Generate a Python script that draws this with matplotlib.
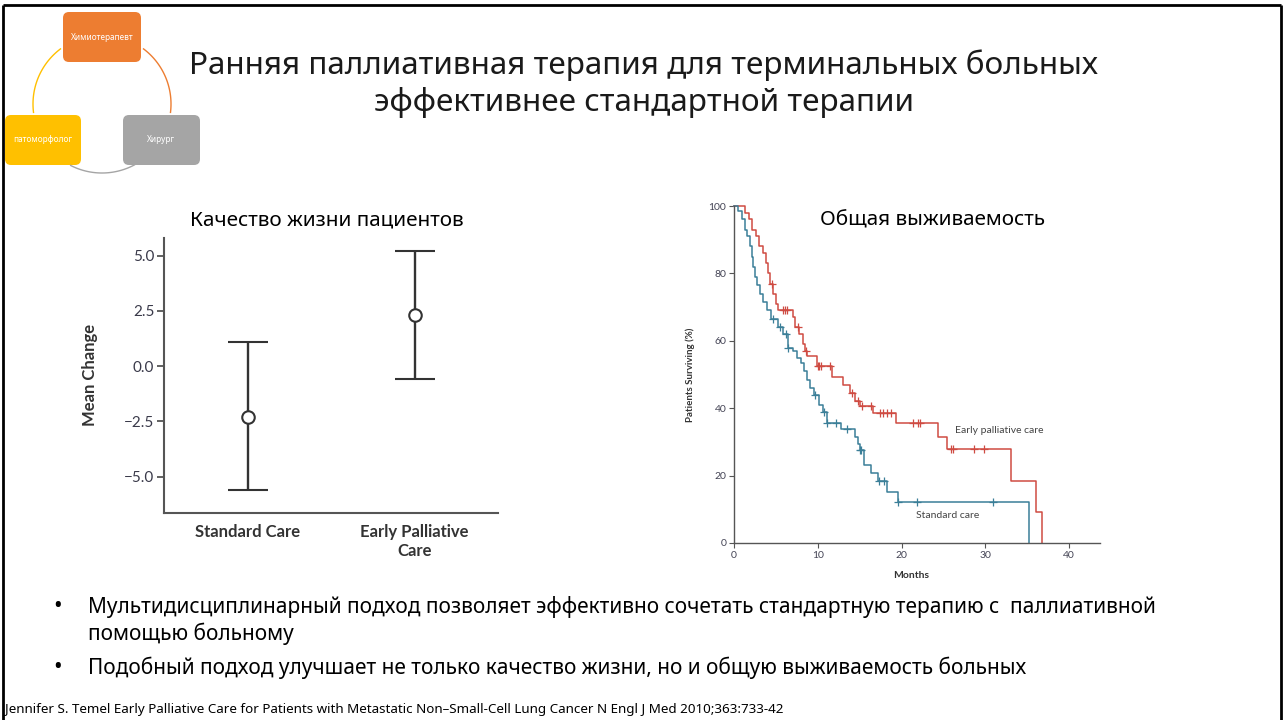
import numpy as np
import matplotlib
matplotlib.use('Agg')
import matplotlib.pyplot as plt
from matplotlib.patches import FancyBboxPatch

W, H = 1285, 720

# ---------------- Data ----------------
qol_groups = ['Standard Care', 'Early Palliative\nCare']
qol_mean = [-2.3, 2.3]
qol_low = [-5.6, -0.6]
qol_high = [1.1, 5.2]
qol_yticks = [-5.0, -2.5, 0.0, 2.5, 5.0]

early_t = [0, 1.3, 1.8, 2.2, 2.6, 3.0, 3.5, 3.8, 4.0, 4.3, 4.7, 5.0, 5.3, 7.0, 7.3,
           7.8, 8.2, 8.5, 8.7, 9.9, 11.7, 13.0, 13.8, 14.5, 15.1, 16.6, 19.4, 24.3,
           25.4, 33.1, 36.1, 36.8]
early_s = [100, 98, 96, 93, 91, 88, 86, 83, 80, 77, 74, 71, 69, 67, 64,
           62, 59, 57, 55.5, 52.5, 49.3, 47, 44.5, 42, 40.7, 38.6, 35.7, 31.5,
           27.9, 18.4, 9.2, 0]
early_cens = [4.5, 5.9, 6.1, 6.3, 7.7, 8.6, 10.0, 10.2, 10.4, 11.5, 14.1, 14.8, 15.3,
              16.4, 17.4, 17.8, 18.3, 18.7, 21.4, 22.0, 22.2, 25.9, 26.1, 28.7, 29.8]

std_t = [0, 0.5, 1.0, 1.3, 1.6, 1.9, 2.1, 2.3, 2.5, 2.8, 3.1, 3.5, 3.9, 4.4, 5.3,
         5.8, 6.4, 7.0, 7.5, 8.0, 8.4, 8.7, 9.1, 9.5, 10.2, 10.6, 11.1, 12.8, 14.5,
         14.8, 15.0, 15.5, 16.3, 17.2, 18.3, 19.6, 35.2]
std_s = [100, 98.5, 96, 93, 91, 88, 85, 82, 79, 76.5, 74, 71.5, 69, 66.5, 64,
         62, 58, 57, 55, 53.5, 51, 48.5, 46, 44, 41, 39, 35.6, 33.8, 31.5,
         29.5, 27.6, 23, 20.8, 18.4, 15.1, 12.2, 0]
std_cens = [4.7, 5.5, 6.2, 6.5, 9.7, 10.7, 11.1, 12.2, 13.5, 15.0, 15.2, 17.3, 17.9,
            19.6, 21.9, 30.9]

km_xticks = [0, 10, 20, 30, 40]
km_yticks = [0, 20, 40, 60, 80, 100]

title_lines = ['Ранняя паллиативная терапия для терминальных больных',
               'эффективнее стандартной терапии']
left_title = 'Качество жизни пациентов'
right_title = 'Общая выживаемость'
bullets = ['Мультидисциплинарный подход позволяет эффективно сочетать стандартную терапию с  паллиативной',
           'помощью больному',
           'Подобный подход улучшает не только качество жизни, но и общую выживаемость больных']
footer = ('Jennifer S. Temel Early Palliative Care for Patients with Metastatic '
          'Non\u2013Small-Cell Lung Cancer N Engl J Med 2010;363:733-42')
roles = ['Химиотерапевт', 'патоморфолог', 'Хирург']
role_colors = ['#ED7D31', '#FFC000', '#A5A5A5']

CYR = ['Noto Sans', 'DejaVu Sans']
CHART = ['Lato', 'DejaVu Sans']

fig = plt.figure(figsize=(W / 100, H / 100), dpi=100)
fig.patch.set_facecolor('white')
renderer = fig.canvas.get_renderer()


def fit_text(x, y, s, width_px, ha='left', va='center', **kw):
    t = fig.text(x / W, 1 - y / H, s, ha=ha, va=va, **kw)
    bb = t.get_window_extent(renderer=renderer)
    t.set_fontsize(t.get_fontsize() * width_px / bb.width)
    return t


# ---------------- background / diagram ----------------
bg = fig.add_axes([0, 0, 1, 1], zorder=-1)
bg.set_xlim(0, W)
bg.set_ylim(H, 0)
bg.axis('off')

for xs, ys in [([3, 3], [5, 720]), ([3, 1281], [5, 5]), ([1281, 1281], [5, 720])]:
    bg.plot(xs, ys, color='black', lw=2, solid_capstyle='butt')

cx, cy, r = 102, 104, 69
arcs = [(-53, 7, role_colors[0]), (62, 117, role_colors[2]), (173, 233, role_colors[1])]
for a0, a1, c in arcs:
    th = np.radians(np.linspace(a0, a1, 60))
    bg.plot(cx + r * np.cos(th), cy + r * np.sin(th), color=c, lw=1.0)

boxes = [(63, 12, 78, 50), (5, 115, 76, 50), (123, 115, 77, 50)]
role_fs = None
for (bx, by, bw, bh), lab, col in zip(boxes, roles, role_colors):
    bg.add_patch(FancyBboxPatch((bx + 6, by + 6), bw - 12, bh - 12,
                                boxstyle='round,pad=6', fc=col, ec='none'))
    if role_fs is None:
        rt = fit_text(bx + bw / 2, by + bh / 2, lab, 63, ha='center', color='white',
                      fontsize=6, family=CYR)
        role_fs = rt.get_fontsize()
    else:
        fig.text((bx + bw / 2) / W, 1 - (by + bh / 2) / H, lab, ha='center', va='center',
                 color='white', fontsize=role_fs, family=CYR)

# ---------------- titles ----------------
t1 = fit_text(643.5, 65, title_lines[0], 913, ha='center', family=CYR,
              fontsize=24, fontweight='light', color='#1a1a1a')
fig.text(643.5 / W, 1 - 103 / H, title_lines[1], ha='center', va='center',
         family=CYR, fontsize=t1.get_fontsize(), fontweight='light', color='#1a1a1a')

st = fit_text(327, 220, left_title, 273, ha='center', family=CYR, fontsize=14, color='black')
fig.text(932 / W, 1 - 220 / H, right_title, ha='center', va='center', family=CYR,
         fontsize=st.get_fontsize(), color='black')

# ---------------- bullets ----------------
b1 = fit_text(88, 607, bullets[0], 1065, family=CYR, fontsize=14, color='black')
fs = b1.get_fontsize()
fig.text(88 / W, 1 - 634 / H, bullets[1], ha='left', va='center', family=CYR, fontsize=fs)
fig.text(88 / W, 1 - 668 / H, bullets[2], ha='left', va='center', family=CYR, fontsize=fs)
for yb in (607, 668):
    fig.text(58 / W, 1 - yb / H, '\u2022', ha='center', va='center', family=CYR,
             fontsize=fs * 1.1)

fit_text(5, 710, footer, 783, family=CYR, fontsize=8, color='black')

# ---------------- left chart: quality of life ----------------
ax1 = fig.add_axes([164 / W, 1 - 513 / H, (498 - 164) / W, (513 - 238) / H])
xpos = np.arange(len(qol_groups))
mean = np.array(qol_mean)
yerr = [mean - np.array(qol_low), np.array(qol_high) - mean]
ax1.errorbar(xpos, mean, yerr=yerr, fmt='o', mfc='white', mec='#333333', ms=9, mew=1.5,
             ecolor='#333333', elinewidth=1.7, capsize=14.4, capthick=1.7)
ax1.set_xlim(-0.5, 1.5)
ax1.set_ylim(-6.65, 5.8)
ax1.set_yticks(qol_yticks)
ax1.set_yticklabels([f'{v:.1f}'.replace('-', '\u2212') for v in qol_yticks],
                    family=CHART, fontsize=11, color='#3a3a4a')
ax1.set_xticks(xpos)
ax1.set_xticklabels(qol_groups, family=CHART, fontsize=12, fontweight='bold',
                    color='#333333', linespacing=1.25)
ax1.tick_params(axis='x', length=0, pad=8)
ax1.tick_params(axis='y', length=5, width=1.3, color='#555555', pad=2)
for s in ('top', 'right'):
    ax1.spines[s].set_visible(False)
for s in ('left', 'bottom'):
    ax1.spines[s].set_color('#555555')
    ax1.spines[s].set_linewidth(1.5)
fig.text(90 / W, 1 - 375 / H, 'Mean Change', rotation=90, ha='center', va='center',
         family=CHART, fontsize=12, fontweight='bold', color='#333333')

# ---------------- right chart: survival ----------------
red, blue = '#cf4b42', '#3b7f98'
ax2 = fig.add_axes([734 / W, 1 - 543 / H, (1100 - 734) / W, (543 - 206) / H])
for t, s, cens, col in [(early_t, early_s, early_cens, red), (std_t, std_s, std_cens, blue)]:
    ax2.step(t, s, where='post', color=col, lw=1.1, clip_on=False)
    tt = np.array(t)
    ss = np.array(s)
    idx = np.searchsorted(tt, np.array(cens), side='right') - 1
    ax2.plot(cens, ss[idx], ls='none', marker='+', ms=6, mew=0.9, color=col, clip_on=False)
ax2.set_xlim(0, 43.7)
ax2.set_ylim(0, 100)
ax2.set_xticks(km_xticks)
ax2.set_yticks(km_yticks)
ax2.tick_params(labelsize=7.5, labelcolor='#444455', length=3.5, color='#555555', pad=2)
for lab in ax2.get_xticklabels() + ax2.get_yticklabels():
    lab.set_family(CHART)
for s in ('top', 'right'):
    ax2.spines[s].set_visible(False)
for s in ('left', 'bottom'):
    ax2.spines[s].set_color('#555555')
    ax2.spines[s].set_linewidth(1.0)
ax2.text(26.4, 33.5, 'Early palliative care', family=CHART, fontsize=7.5, color='#444444',
         va='center', ha='left')
ax2.text(21.7, 8.3, 'Standard care', family=CHART, fontsize=7.5, color='#444444',
         va='center', ha='left')
fig.text(690 / W, 1 - 375 / H, 'Patients Surviving (%)', rotation=90, ha='center',
         va='center', family=CHART, fontsize=7, fontweight='bold', color='#333333')
fig.text(911 / W, 1 - 576 / H, 'Months', ha='center', va='center', family=CHART,
         fontsize=7.5, fontweight='bold', color='#333333')

fig.savefig('out.png', dpi=100, facecolor='white')
